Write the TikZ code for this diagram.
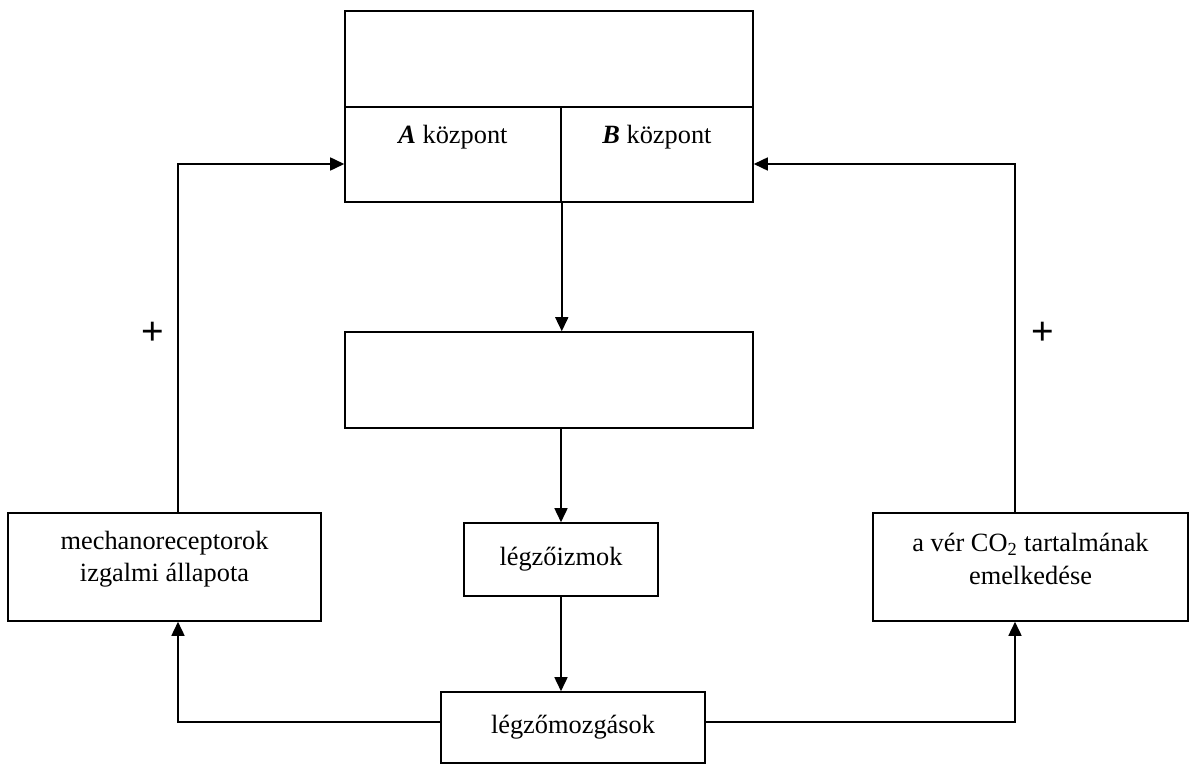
\documentclass[tikz,border=0pt]{standalone}
\usepackage{fontspec}
\setmainfont{Liberation Serif}
\newfontfamily\pluszfont{Liberation Sans}
\usetikzlibrary{arrows.meta, positioning, calc}
\tikzset{
  doboz/.style={draw, line width=0.9pt, inner sep=0pt},
  felirat/.style={font=\fontsize{15}{18.5}\selectfont, align=center, inner sep=0pt},
  nyil/.style={line width=0.9pt, -{Triangle[length=0.28cm, width=0.26cm]}},
  plusz/.style={font=\pluszfont\fontsize{22}{22}\selectfont, inner sep=0pt},
}

\begin{document}
\begin{tikzpicture}[x=0.02cm, y=-0.02cm]
    \useasboundingbox (0,0) rectangle (1200,764);
    % felso doboz, ket kozponttal
    \node[doboz, minimum width=8.16cm, minimum height=1.92cm] (felso) at (549,59) {};
    \node[doboz, minimum width=4.32cm, minimum height=1.9cm] (kozpA) at (453,154.5) {};
    \node[doboz, minimum width=3.84cm, minimum height=1.9cm] (kozpB) at (657,154.5) {};
    \node[felirat] (Atxt) at (453,137) {\textbf{\textit{A}} központ};
    \node[felirat] (Btxt) at (657,137) {\textbf{\textit{B}} központ};
    \node[doboz, minimum width=8.16cm, minimum height=1.92cm] (kozep) at (549,380) {};
    \node[doboz, felirat, minimum width=3.88cm, minimum height=1.46cm] (izmok) at (561,559.5) {légzőizmok};
    \node[doboz, felirat, minimum width=5.28cm, minimum height=1.42cm] (mozg) at (573,727.5) {légzőmozgások};
    \node[doboz, minimum width=6.26cm, minimum height=2.16cm] (mech) at (164.5,567) {};
    \node[felirat] (mechtxt) at (164.5,559) {mechanoreceptorok\\izgalmi állapota};
    \node[doboz, minimum width=6.3cm, minimum height=2.16cm] (co2) at (1030.5,567) {};
    \node[felirat] (co2txt) at (1030.5,559) {a vér CO\textsubscript{2} tartalmának\\emelkedése};
    \node[plusz] (pluszbal) at (153,333) {+};
    \node[plusz] (pluszjobb) at (1043,333) {+};
    \coordinate (balx) at (178,0);
    \coordinate (jobbx) at (1015,0);
    % nyilak
    \draw[nyil] (kozpA.south east) -- (kozpA.south east |- kozep.north);
    \draw[nyil] (izmok.north |- kozep.south) -- (izmok.north);
    \draw[nyil] (izmok.south) -- (izmok.south |- mozg.north);
    \draw[nyil] ([yshift=0.11cm]mozg.west) -| (mech.south -| balx);
    \draw[nyil] ([yshift=0.11cm]mozg.east) -| (co2.south -| jobbx);
    \draw[nyil] (mech.north -| balx) |- ([yshift=-0.19cm]kozpA.west);
    \draw[nyil] (co2.north -| jobbx) |- ([yshift=-0.19cm]kozpB.east);
\end{tikzpicture}
\end{document}
